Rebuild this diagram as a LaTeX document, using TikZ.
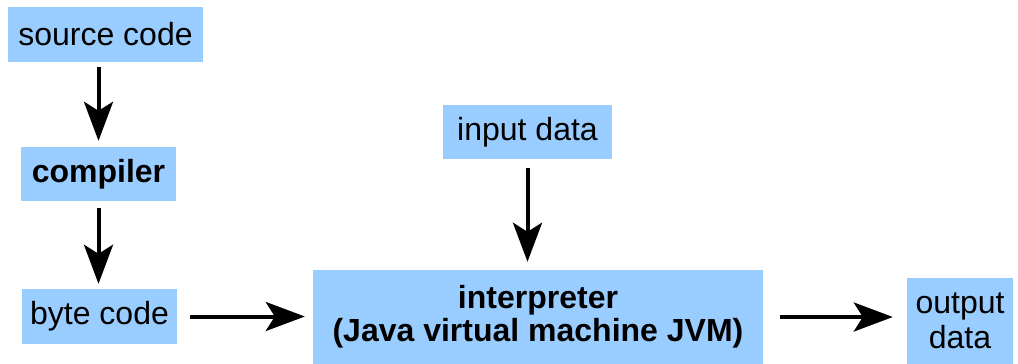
\documentclass[tikz,border=0pt]{standalone}
\usepackage{fontspec}
\setmainfont{Liberation Sans}
\usetikzlibrary{arrows.meta, positioning}

\definecolor{boxblue}{RGB}{153,204,255}

\begin{document}
\begin{tikzpicture}[x=1pt,y=-1pt,
  box/.style={fill=boxblue, inner sep=0pt, align=center,
    font=\fontsize{32}{35}\selectfont},
  flow/.style={line width=4pt, -{Stealth[length=39pt, width=29pt, inset=9pt]}}]
\useasboundingbox (0,0) rectangle (1018,364);
% Draw boxes
\node[box, minimum width=195pt, minimum height=55pt] (src) at (105.5,34.5) {source code};
\node[box, minimum width=155pt, minimum height=54pt] (comp) at (98.5,174) {\bfseries compiler};
\node[box, minimum width=155pt, minimum height=55pt] (byte) at (99.5,316.5) {byte code};
\node[box, minimum width=169pt, minimum height=54pt] (input) at (527.5,132) {input data};
\node[box, minimum width=450pt, minimum height=94pt] (interp) at (538,317)
  {\bfseries interpreter\\[-2pt]\bfseries (Java virtual machine JVM)};
\node[box, minimum width=106pt, minimum height=86pt] (output) at (960,321) {output\\data};
% Draw arrows
\draw[flow, shorten <=5pt, shorten >=6pt] (src.south -| comp.north) -- (comp.north);
\draw[flow, shorten <=7pt, shorten >=5pt] (comp.south) -- (comp.south |- byte.north);
\draw[flow, shorten <=9pt, shorten >=8pt] (input.south) -- (input.south |- interp.north);
\draw[flow, shorten <=13pt, shorten >=8pt] (byte.east) -- (byte.east -| interp.west);
\draw[flow, shorten <=17pt, shorten >=14pt] (interp.east) -- (interp.east -| output.west);
\end{tikzpicture}
\end{document}
